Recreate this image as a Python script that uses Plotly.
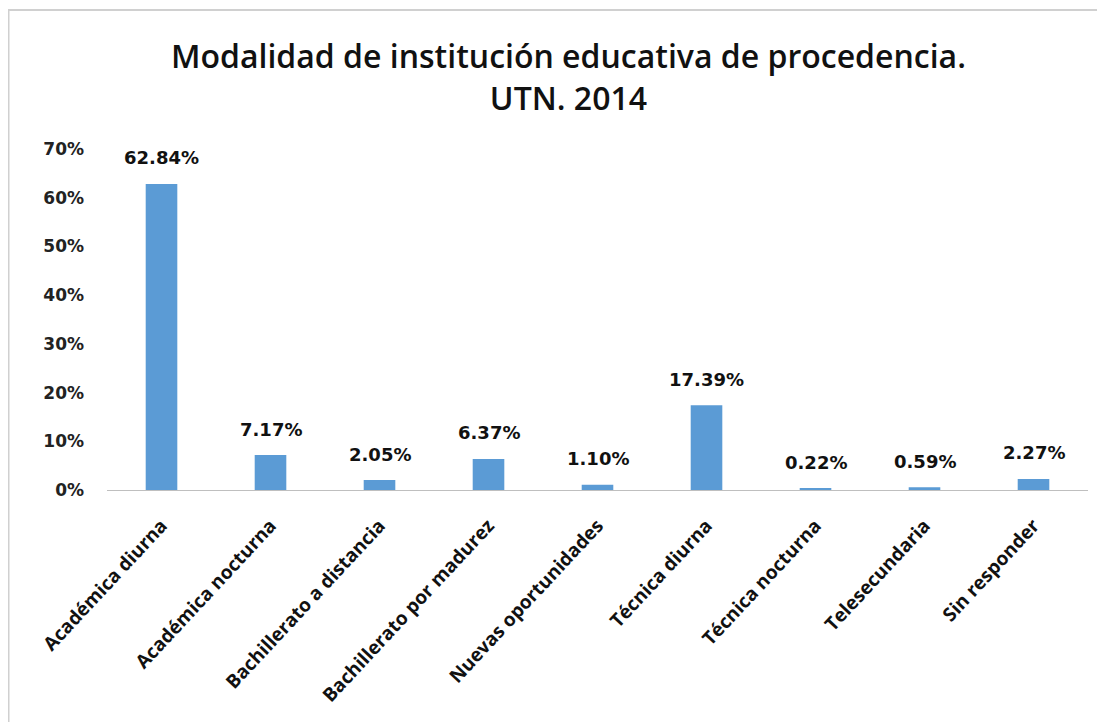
import plotly.graph_objects as go

categories = ["Académica diurna", "Académica nocturna", "Bachillerato a distancia",
              "Bachillerato por madurez", "Nuevas oportunidades", "Técnica diurna",
              "Técnica nocturna", "Telesecundaria", "Sin responder"]
values = [0.6284, 0.0717, 0.0205, 0.0637, 0.0110, 0.1739, 0.0022, 0.0059, 0.0227]
y_ticks = [0, 0.1, 0.2, 0.3, 0.4, 0.5, 0.6, 0.7]
title_text = "Modalidad de institución educativa de procedencia.<br>UTN. 2014"

fig = go.Figure(go.Bar(
    x=categories, y=values,
    marker=dict(color="#5B9BD5", line=dict(width=0)),
    hoverinfo="x+y",
))

# data labels
for c, v in zip(categories, values):
    fig.add_annotation(
        x=c, y=v, xref="x", yref="y", text=f"{v*100:.2f}%",
        showarrow=False, yanchor="middle", yshift=26,
        font=dict(family="DejaVu Sans", size=18, color="#111111", weight="bold"),
    )

# title
fig.add_annotation(
    x=0.4705, y=1.212, xref="paper", yref="paper", text=title_text, showarrow=False,
    xanchor="center", yanchor="middle", align="center",
    font=dict(family="Open Sans", size=32, color="#111111", weight=600),
)

fig.update_layout(
    width=1105, height=722,
    paper_bgcolor="white", plot_bgcolor="white",
    margin=dict(l=99, r=25, t=141, b=240),
    bargap=0.71,
    showlegend=False,
    xaxis=dict(
        tickangle=-47, showline=True, linecolor="#BFBFBF", linewidth=1,
        ticks="", showgrid=False, ticklabelstandoff=16,
        tickfont=dict(family="Open Sans", size=19, color="#111111", weight="bold"),
    ),
    yaxis=dict(
        range=[0, 0.7], tickvals=y_ticks, tickformat=".0%",
        showgrid=False, zeroline=False, showline=False, ticks="",
        tickfont=dict(family="DejaVu Sans", size=17, color="#222222", weight="bold"),
        ticklabelstandoff=22,
    ),
    shapes=[dict(type="rect", xref="paper", yref="paper",
                 x0=-0.1004, x1=1.2, y0=-1.2, y1=1.4076,
                 line=dict(color="#D0D0D0", width=2), layer="below")],
)

fig.write_html("out.html")
